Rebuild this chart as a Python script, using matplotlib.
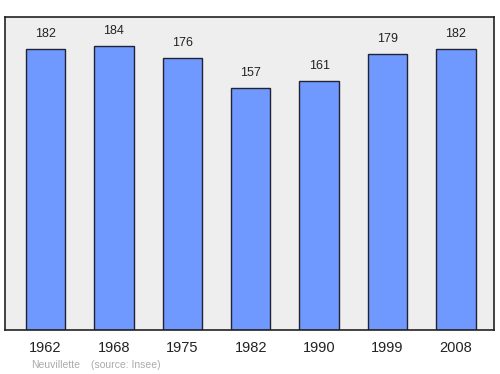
import matplotlib
matplotlib.use("Agg")
import matplotlib.pyplot as plt

years = ["1962", "1968", "1975", "1982", "1990", "1999", "2008"]
population = [182, 184, 176, 157, 161, 179, 182]
commune = "Neuvillette"
source = "(source: Insee)"

fig = plt.figure(figsize=(5, 3.74), dpi=100)
ax = fig.add_axes([0.01, 0.1176, 0.978, 0.837])
ax.set_facecolor("#eeeeee")
x = list(range(len(years)))
ax.bar(x, population, width=0.578, color="#7099ff", edgecolor="#222233", linewidth=1.0)
for xi, v in zip(x, population):
    ax.text(xi, v + 9.7, str(v), ha="center", va="center", fontsize=9,
            family="Liberation Sans", color="#222222")
ax.set_xlim(-0.592, 6.557)
ax.set_ylim(0, 202.7)
ax.set_yticks([])
ax.set_xticks(x)
ax.set_xticklabels(years, fontsize=10.5, family="Liberation Sans", color="#222222")
ax.tick_params(axis="x", length=0, pad=8)
for s in ax.spines.values():
    s.set_color("#222222")
    s.set_linewidth(1.2)
fig.text(31 / 500, 1 - 365 / 374, commune, fontsize=7.5, color="#aaaaaa",
         family="Liberation Sans", va="center", ha="left")
fig.text(91 / 500, 1 - 365 / 374, source, fontsize=7.5, color="#aaaaaa",
         family="Liberation Sans", va="center", ha="left")
fig.savefig("out.png", dpi=100)
